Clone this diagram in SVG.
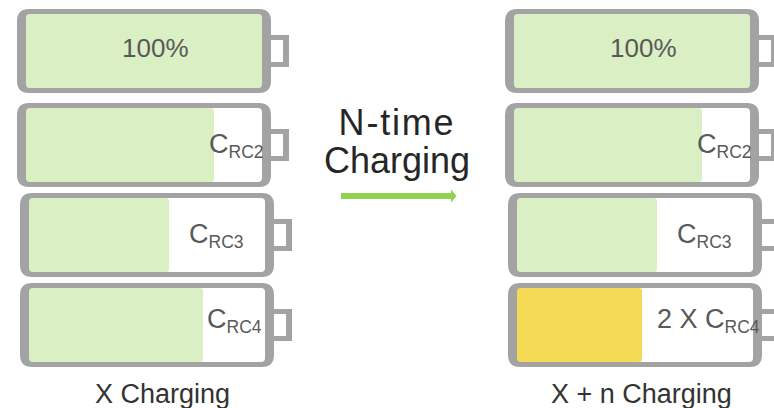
<svg xmlns="http://www.w3.org/2000/svg" xmlns:xlink="http://www.w3.org/1999/xlink" width="774" height="408" viewBox="0 0 774 408">
<style>
text{font-family:"Liberation Sans",Arial,sans-serif;fill:#595959}
.v{font-size:26px}
.s{font-size:17.500px}
.cap{font-size:27px;fill:#333}
.mid{font-size:36px;fill:#262626;text-anchor:middle}
.g{fill:#dbefc5}
.y{fill:#f4da55}
</style>
<defs>
<g id="shell">
<path fill="#a3a3a3" fill-rule="evenodd" d="M29 9H259Q271 9 271 21V81Q271 93 259 93H29Q17 93 17 81V21Q17 9 29 9ZM30 14Q26 14 26 18V84Q26 88 30 88H258Q262 88 262 84V18Q262 14 258 14Z"/>
<path fill="#a3a3a3" fill-rule="evenodd" d="M271 35H289V67H271V62H283V40H271Z"/>
</g>
</defs>
<rect width="774" height="408" fill="#fff"/>
<g id="b1">
<rect class="g" x="26" y="14" width="236" height="74" rx="4"/>
<use xlink:href="#shell" href="#shell"/>
<text class="v" x="122" y="57">100%</text>
</g>
<g id="b2">
<rect class="g" x="26" y="108" width="188" height="74" rx="3"/>
<use xlink:href="#shell" href="#shell" y="94"/>
<text class="v" x="209" y="153" style="font-size:27px">C<tspan class="s" dy="5">RC2</tspan></text>
</g>
<g id="b3">
<rect class="g" x="29" y="198" width="140" height="74" rx="3"/>
<use xlink:href="#shell" href="#shell" x="3" y="184"/>
<text class="v" x="189" y="243" style="font-size:27px">C<tspan class="s" dy="5">RC3</tspan></text>
</g>
<g id="b4">
<rect class="g" x="29" y="288" width="174" height="74" rx="3"/>
<use xlink:href="#shell" href="#shell" x="3" y="274"/>
<text class="v" x="207" y="328" style="font-size:27px">C<tspan class="s" dy="5">RC4</tspan></text>
</g>
<text id="capL" class="cap" x="95" y="403">X Charging</text>
<g id="r1">
<rect class="g" x="514" y="14" width="236" height="74" rx="4"/>
<use xlink:href="#shell" href="#shell" x="488"/>
<text class="v" x="610" y="57">100%</text>
</g>
<g id="r2">
<rect class="g" x="514" y="108" width="188" height="74" rx="3"/>
<use xlink:href="#shell" href="#shell" x="488" y="94"/>
<text class="v" x="697" y="153" style="font-size:27px">C<tspan class="s" dy="5">RC2</tspan></text>
</g>
<g id="r3">
<rect class="g" x="517" y="198" width="140" height="74" rx="3"/>
<use xlink:href="#shell" href="#shell" x="491" y="184"/>
<text class="v" x="677" y="243" style="font-size:27px">C<tspan class="s" dy="5">RC3</tspan></text>
</g>
<g id="r4">
<rect class="y" x="517" y="288" width="125" height="74" rx="3"/>
<use xlink:href="#shell" href="#shell" x="491" y="274"/>
<text class="v" x="657" y="328" style="font-size:27px">2 X C<tspan class="s" dy="5">RC4</tspan></text>
</g>
<text id="capR" class="cap" x="551" y="403">X + n Charging</text>
<g id="title">
<text class="mid" x="397" y="135" letter-spacing="1.800">N-time</text>
<text class="mid" x="397" y="173">Charging</text>
</g>
<g id="connectors">
<path d="M341 193H451V189.500L456.500 196L451 202.500V199H341Z" fill="#92d050"/>
</g>
</svg>
